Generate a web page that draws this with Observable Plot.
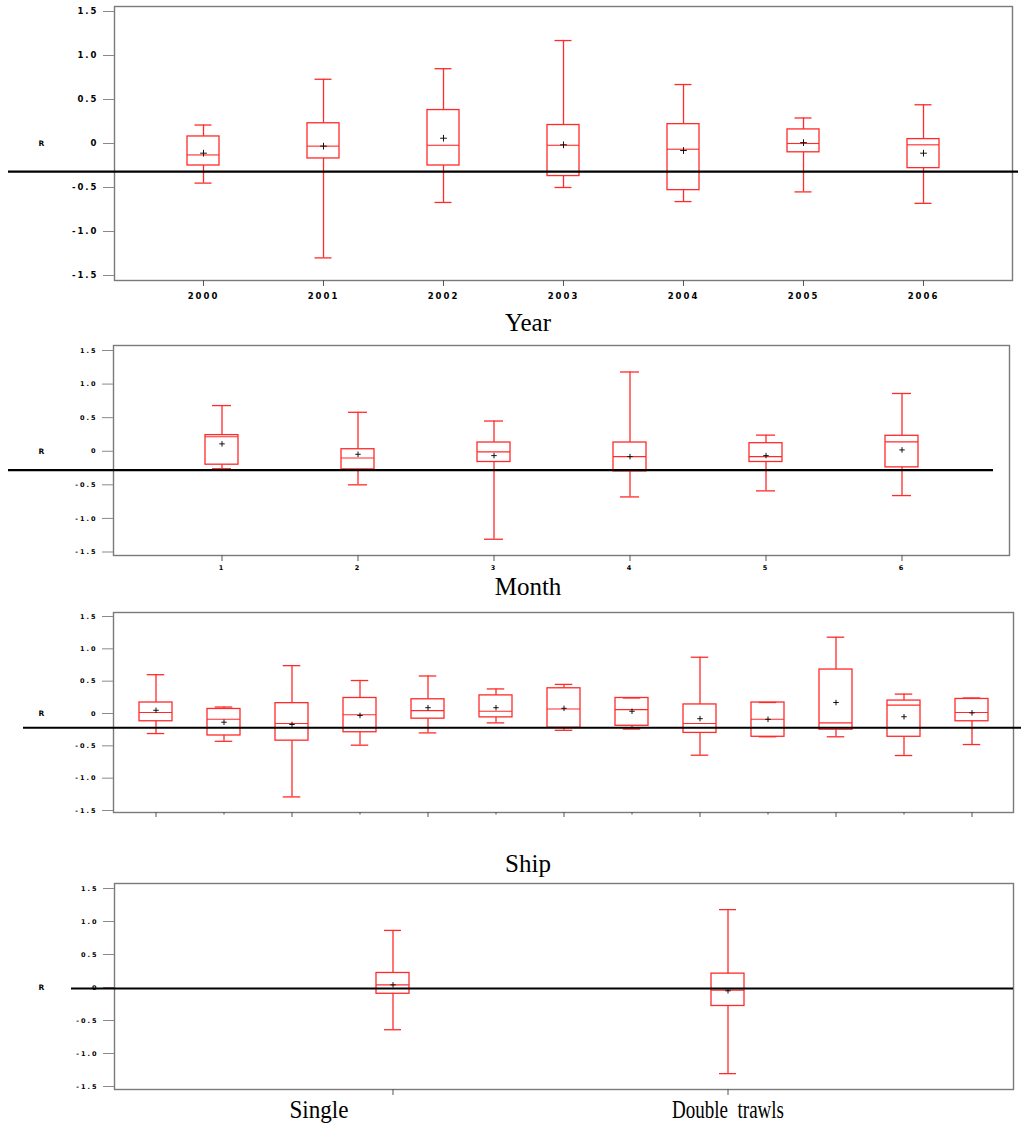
<!DOCTYPE html>
<html>
<head>
<meta charset="utf-8">
<script src="https://cdn.jsdelivr.net/npm/d3@7"></script>
<script src="https://cdn.jsdelivr.net/npm/@observablehq/plot@0.6"></script>
<style>
  body { margin: 0; background: #fff; }
  #page { position: relative; width: 1021px; height: 1129px; background: #fff; overflow: hidden; }
  .panel { position: absolute; left: 0; }
  .panel svg text { letter-spacing: 2px; }
  #gear svg [aria-label="x-axis tick label"] text { letter-spacing: 0; }
  .title { position: absolute; font-family: "Liberation Serif", "Times New Roman", serif;
           font-size: 25px; line-height: 25px; color: #000; transform: translateX(-50%); white-space: nowrap; }
</style>
</head>
<body>
<div id="page"></div>
<script>
// Residuals R by year
const years = ["2000", "2001", "2002", "2003", "2004", "2005", "2006"];
const yearLow    = [-0.45, -1.30, -0.67, -0.50, -0.66, -0.55, -0.68];
const yearQ1     = [-0.25, -0.17, -0.25, -0.37, -0.53, -0.10, -0.28];
const yearMedian = [-0.13, -0.03, -0.02, -0.02, -0.065, 0.00, -0.015];
const yearQ3     = [0.08, 0.23, 0.38, 0.21, 0.22, 0.16, 0.05];
const yearHigh   = [0.21, 0.73, 0.85, 1.17, 0.67, 0.29, 0.44];
const yearMean   = [-0.11, -0.03, 0.06, -0.015, -0.08, 0.01, -0.11];
const yearRef = -0.32;

// Residuals R by month
const months = ["1", "2", "3", "4", "5", "6"];
const monthLow    = [-0.26, -0.50, -1.31, -0.68, -0.59, -0.66];
const monthQ1     = [-0.20, -0.27, -0.16, -0.30, -0.16, -0.24];
const monthMedian = [0.215, -0.10, -0.01, -0.08, -0.08, 0.14];
const monthQ3     = [0.24, 0.03, 0.13, 0.13, 0.12, 0.23];
const monthHigh   = [0.68, 0.58, 0.45, 1.18, 0.24, 0.86];
const monthMean   = [0.11, -0.045, -0.065, -0.08, -0.065, 0.02];
const monthRef = -0.28;

// Residuals R by ship (13 vessels, unlabelled)
const ships = ["1", "2", "3", "4", "5", "6", "7", "8", "9", "10", "11", "12", "13"];
const shipLow    = [-0.31, -0.43, -1.29, -0.49, -0.30, -0.145, -0.26, -0.24, -0.645, -0.36, -0.36, -0.65, -0.48];
const shipQ1     = [-0.12, -0.34, -0.42, -0.29, -0.08, -0.06, -0.22, -0.19, -0.30, -0.36, -0.25, -0.36, -0.12];
const shipMedian = [0.015, -0.09, -0.155, -0.02, 0.045, 0.035, 0.07, 0.06, -0.155, -0.09, -0.145, 0.13, 0.015];
const shipQ3     = [0.17, 0.07, 0.16, 0.24, 0.22, 0.28, 0.39, 0.24, 0.14, 0.17, 0.68, 0.20, 0.225];
const shipHigh   = [0.60, 0.10, 0.74, 0.51, 0.58, 0.38, 0.45, 0.24, 0.87, 0.17, 1.18, 0.30, 0.24];
const shipMean   = [0.05, -0.135, -0.17, -0.03, 0.09, 0.09, 0.08, 0.035, -0.08, -0.09, 0.17, -0.05, 0.01];
const shipRef = -0.22;

// Residuals R by gear type
const gears = ["Single", "Double  trawls"];
const gearLow    = [-0.64, -1.305];
const gearQ1     = [-0.095, -0.28];
const gearMedian = [0.04, -0.04];
const gearQ3     = [0.22, 0.21];
const gearHigh   = [0.865, 1.18];
const gearMean   = [0.04, -0.05];
const gearRef = -0.015;

const yTicks = [-1.5, -1.0, -0.5, 0, 0.5, 1.0, 1.5];
const fmtY = d => d === 0 ? "0" : d.toFixed(1);
const RED = "#ff2a2a";

function rowsOf(cats, low, q1, med, q3, high, mean) {
  return cats.map((c, i) => ({cat: c, low: low[i], q1: q1[i], median: med[i], q3: q3[i], high: high[i], mean: mean[i]}));
}

function boxPanel(o) {
  const rows = rowsOf(o.cats, o.low, o.q1, o.med, o.q3, o.high, o.mean);
  const marks = [
    Plot.frame({stroke: "#7a7a7a", strokeWidth: 1.4}),
    Plot.axisY({ticks: yTicks, tickFormat: fmtY, tickSize: 11, tickPadding: o.yPad, label: null,
                fontSize: o.yFont, fontWeight: "bold", stroke: "#8a8a8a", fill: "#000"}),
    ...o.xAxes,
    Plot.text([0], {y: d => d, text: () => "R", frameAnchor: "left", dx: 42 - o.ml,
                    textAnchor: "middle", fontSize: 7.5, fontWeight: "bold", fill: "#000"}),
    // whiskers
    Plot.ruleX(rows, {x: "cat", y1: "q3", y2: "high", stroke: RED, strokeWidth: 1.3}),
    Plot.ruleX(rows, {x: "cat", y1: "low", y2: "q1", stroke: RED, strokeWidth: 1.3}),
    Plot.tickY(rows, {x: "cat", y: "high", stroke: RED, strokeWidth: 1.3, insetLeft: o.cap, insetRight: o.cap}),
    Plot.tickY(rows, {x: "cat", y: "low", stroke: RED, strokeWidth: 1.3, insetLeft: o.cap, insetRight: o.cap}),
    // boxes and medians
    Plot.barY(rows, {x: "cat", y1: "q1", y2: "q3", fill: "none", stroke: RED, strokeWidth: 1.3}),
    Plot.tickY(rows, {x: "cat", y: "median", stroke: RED, strokeWidth: 1.1}),
    // reference level
    Plot.ruleY([o.ref], {stroke: "#000", strokeWidth: 2.2, insetLeft: o.lineL, insetRight: o.lineR}),
    // means
    Plot.dot(rows, {x: "cat", y: "mean", symbol: "plus", r: o.meanR, stroke: "#111", strokeWidth: 1})
  ];
  return Plot.plot({
    width: 1021,
    height: o.height,
    marginTop: o.mt,
    marginBottom: o.mb,
    marginLeft: o.ml,
    marginRight: o.mr,
    style: {background: "transparent", overflow: "visible", fontFamily: "DejaVu Sans, sans-serif"},
    x: {type: "band", domain: o.cats, paddingInner: o.pi, paddingOuter: o.po, align: o.align ?? 0.5, label: null},
    y: {domain: [-1.5, 1.5], insetTop: o.it, insetBottom: o.ib, label: null},
    marks
  });
}

const page = document.getElementById("page");
function place(id, top, node) {
  const d = document.createElement("div");
  d.className = "panel";
  d.id = id;
  d.style.top = top + "px";
  d.appendChild(node);
  page.appendChild(d);
}
function title(text, top) {
  const t = document.createElement("div");
  t.className = "title";
  t.textContent = text;
  t.style.left = "528px";
  t.style.top = top + "px";
  page.appendChild(t);
}

// Year panel
place("year", 0, boxPanel({
  cats: years, low: yearLow, q1: yearQ1, med: yearMedian, q3: yearQ3, high: yearHigh, mean: yearMean, ref: yearRef,
  height: 310, mt: 6, mb: 30, ml: 114, mr: 9, it: 5, ib: 5, pi: 0.733, po: 0.608,
  cap: 7.5, meanR: 2.3, yFont: 8.5, yPad: 5, lineL: -106, lineR: -6,
  xAxes: [Plot.axisX({tickSize: 6, tickPadding: 6, fontSize: 8.5, fontWeight: "bold", stroke: "#555", fill: "#000", label: null})]
}));
title("Year", 310);

// Month panel
place("month", 340, boxPanel({
  cats: months, low: monthLow, q1: monthQ1, med: monthMedian, q3: monthQ3, high: monthHigh, mean: monthMean, ref: monthRef,
  height: 240, mt: 5, mb: 25, ml: 113, mr: 12, it: 5, ib: 3.5, pi: 0.759, po: 0.65,
  cap: 7, meanR: 1.9, yFont: 6.5, yPad: 5, lineL: -105, lineR: 16,
  xAxes: [Plot.axisX({tickSize: 6, tickPadding: 4, fontSize: 6.5, fontWeight: "bold", stroke: "#555", fill: "#000", label: null})]
}));
title("Month", 574);

// Ship panel: long ticks on odd vessels, short ticks on even ones, no labels
place("ship", 605, boxPanel({
  cats: ships, low: shipLow, q1: shipQ1, med: shipMedian, q3: shipQ3, high: shipHigh, mean: shipMean, ref: shipRef,
  height: 225, mt: 7, mb: 18, ml: 113, mr: 8, it: 4, ib: 2, pi: 0.517, po: 0.344,
  cap: 7.75, meanR: 1.9, yFont: 6.5, yPad: 5, lineL: -90, lineR: -8,
  xAxes: [
    Plot.axisX(ships.filter((d, i) => i % 2 === 0), {tickSize: 5, tickFormat: () => "", stroke: "#555", label: null}),
    Plot.axisX(ships.filter((d, i) => i % 2 === 1), {tickSize: 2.5, tickFormat: () => "", stroke: "#555", label: null})
  ]
}));
title("Ship", 851);

// Gear panel
const gearPlot = boxPanel({
  cats: gears, low: gearLow, q1: gearQ1, med: gearMedian, q3: gearQ3, high: gearHigh, mean: gearMean, ref: gearRef,
  height: 254, mt: 8, mb: 40, ml: 114, mr: 8, it: 5, ib: 3, pi: 0.9017, po: 0.79, align: 0.494,
  cap: 8, meanR: 1.9, yFont: 6.5, yPad: 5, lineL: -43, lineR: 0,
  xAxes: [Plot.axisX({tickSize: 6, tickPadding: 5, fontSize: 25, stroke: "#555", fill: "#000", label: null,
                      fontFamily: "Liberation Serif, Times New Roman, serif"})]
});
place("gear", 875, gearPlot);
// condensed serif category names; "Single" sits left of its tick
const gearWidths = {"Single": 59, "Double  trawls": 112};
const gearShift = {"Single": -74, "Double  trawls": 0};
d3.select(gearPlot).selectAll('[aria-label="x-axis tick label"] text').each(function() {
  const s = d3.select(this);
  s.style("white-space", "pre");
  const name = s.text();
  if (gearWidths[name]) s.attr("textLength", gearWidths[name]).attr("lengthAdjust", "spacingAndGlyphs");
  if (gearShift[name]) s.attr("dx", gearShift[name]);
});
</script>
</body>
</html>
